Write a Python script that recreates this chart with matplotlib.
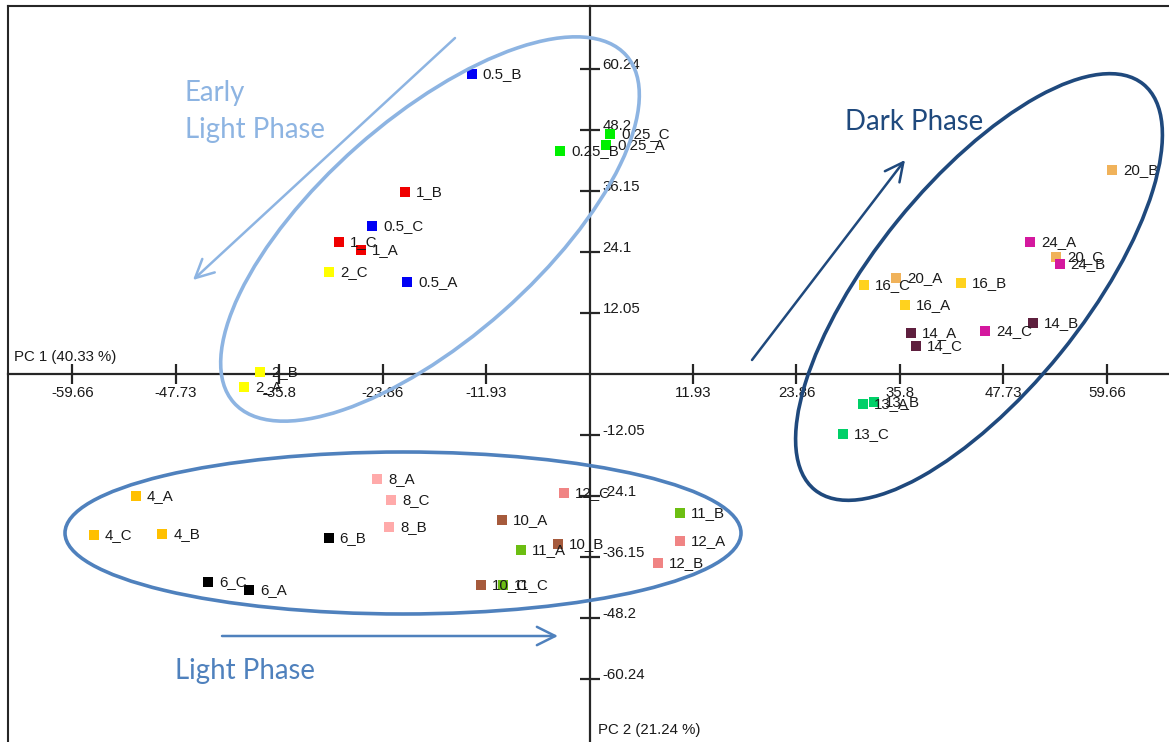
import matplotlib
matplotlib.use("Agg")
import matplotlib.pyplot as plt
from matplotlib.patches import Ellipse
from matplotlib.lines import Line2D
from matplotlib.transforms import IdentityTransform, offset_copy

W, H = 1169, 742

# PCA scores (PC1, PC2) for each sample, labelled <hours>_<replicate>
samples = ["0.25_A", "0.25_B", "0.25_C", "0.5_A", "0.5_B", "0.5_C",
           "1_A", "1_B", "1_C", "2_A", "2_B", "2_C",
           "4_A", "4_B", "4_C", "6_A", "6_B", "6_C",
           "8_A", "8_B", "8_C", "10_A", "10_B", "10_C",
           "11_A", "11_B", "11_C", "12_A", "12_B", "12_C",
           "13_A", "13_B", "13_C", "14_A", "14_B", "14_C",
           "16_A", "16_B", "16_C", "20_A", "20_B", "20_C",
           "24_A", "24_B", "24_C"]
pc1 = [1.89, -3.41, 2.35, -21.07, -13.60, -25.07,
       -26.37, -21.26, -28.88, -39.87, -38.02, -30.06,
       -52.33, -49.30, -57.21, -39.26, -30.10, -44.02,
       -24.49, -23.11, -22.91, -10.14, -3.68, -12.49,
       -7.91, 10.43, -9.96, 10.39, 7.93, -2.92,
       31.51, 32.84, 29.27, 37.08, 51.19, 37.69,
       36.35, 42.81, 31.66, 35.35, 60.27, 53.81,
       50.84, 54.23, 45.62]
pc2 = [45.24, 44.05, 47.47, 18.17, 59.26, 29.36,
       24.56, 36.07, 26.08, -2.57, 0.40, 20.15,
       -24.04, -31.49, -31.81, -42.55, -32.34, -41.09,
       -20.74, -30.17, -24.77, -28.78, -33.52, -41.62,
       -34.71, -27.46, -41.62, -32.99, -37.34, -23.51,
       -5.93, -5.53, -11.73, 8.10, 10.13, 5.59,
       13.69, 18.10, 17.58, 19.08, 40.36, 23.11,
       26.14, 21.85, 8.55]

time_colors = {
    "0.25": "#00F000", "0.5": "#0000F5", "1": "#F00000", "2": "#FFFF00",
    "4": "#FFC000", "6": "#000000", "8": "#FFAAAA", "10": "#A65A3C",
    "11": "#6CBE12", "12": "#F08484", "13": "#00D068", "14": "#5E1F3E",
    "16": "#FFD21E", "20": "#F0B25A", "24": "#D4189E",
}

x_ticks = [-59.66, -47.73, -35.8, -23.86, -11.93, 11.93, 23.86, 35.8, 47.73, 59.66]
x_tick_labels = ["-59.66", "-47.73", "-35.8", "-23.86", "-11.93",
                 "11.93", "23.86", "35.8", "47.73", "59.66"]
y_ticks = [60.24, 48.2, 36.15, 24.1, 12.05, -12.05, -24.1, -36.15, -48.2, -60.24]
y_tick_labels = ["60.24", "48.2", "36.15", "24.1", "12.05",
                 "-12.05", "-24.1", "-36.15", "-48.2", "-60.24"]

x_title = "PC 1 (40.33 %)"
y_title = "PC 2 (21.24 %)"

LABEL_FONT = "Liberation Sans"
PHASE_FONT = "Lato"
AXIS_COLOR = "#262626"
EARLY_COLOR = "#8DB4E2"
LIGHT_COLOR = "#4F81BD"
DARK_COLOR = "#1F497D"

fig = plt.figure(figsize=(W / 100, H / 100), dpi=100)
ax = fig.add_axes([0, 0, 1, 1])
ax.set_xlim(-68.02, 66.84)
ax.set_ylim(-72.64, 73.94)
ax.set_facecolor("white")


def fx(px):
    return px / W


def fy(py):
    return 1 - py / H


# outer frame (left and top edges)
fig.add_artist(Line2D([fx(7.5), fx(7.5)], [0, fy(5.5)], color=AXIS_COLOR, lw=1.5,
                      transform=fig.transFigure))
fig.add_artist(Line2D([fx(7.5), 1], [fy(5.5), fy(5.5)], color=AXIS_COLOR, lw=1.5,
                      transform=fig.transFigure))

# axes crossing at the origin
for side in ("top", "right"):
    ax.spines[side].set_visible(False)
ax.spines["left"].set_position(("data", 0))
ax.spines["bottom"].set_position(("data", 0))
ax.spines["left"].set_bounds(ax.get_ylim()[0], 72.85)
ax.spines["bottom"].set_bounds(-67.15, ax.get_xlim()[1])
for side in ("left", "bottom"):
    ax.spines[side].set_color(AXIS_COLOR)
    ax.spines[side].set_linewidth(1.6)
ax.set_xticks(x_ticks)
ax.set_yticks(y_ticks)
ax.tick_params(direction="inout", length=14, width=1.6, color=AXIS_COLOR,
               labelbottom=False, labelleft=False)

tick_font = dict(family=LABEL_FONT, size=10.8, color="#1a1a1a")
x_lab_tr = offset_copy(ax.transData, fig=fig, x=0, y=-19, units="dots")
for v, s in zip(x_ticks, x_tick_labels):
    ax.text(v, 0, s, transform=x_lab_tr, ha="center", va="center", **tick_font)
y_lab_tr = offset_copy(ax.transData, fig=fig, x=13, y=4, units="dots")
for v, s in zip(y_ticks, y_tick_labels):
    ax.text(0, v, s, transform=y_lab_tr, ha="left", va="center", **tick_font)

ax.text(fx(14), fy(357), x_title, transform=ax.transAxes, ha="left", va="center",
        **tick_font)
ax.text(fx(598), fy(730), y_title, transform=ax.transAxes, ha="left", va="center",
        **tick_font)

# sample markers
colors = [time_colors[s.split("_")[0]] for s in samples]
ax.scatter(pc1, pc2, marker="s", s=52, c=colors, linewidths=0, zorder=3)

# sample labels
lab_tr = offset_copy(ax.transData, fig=fig, x=11, y=0, units="dots")
for name, x, y in zip(samples, pc1, pc2):
    ax.text(x, y, name, transform=lab_tr, ha="left", va="center",
            family=LABEL_FONT, size=10.8, color="#1a1a1a", zorder=4)

# phase groupings (drawn in pixel space so the shapes stay true ellipses)
pix = IdentityTransform()
ax.add_patch(Ellipse((430, H - 229), 2 * 262, 2 * 110, angle=41.5, fill=False,
                     ec=EARLY_COLOR, lw=2.6, transform=pix, zorder=5))
ax.add_patch(Ellipse((979, H - 287), 2 * 261, 2 * 105, angle=51, fill=False,
                     ec=DARK_COLOR, lw=2.6, transform=pix, zorder=5))
ax.add_patch(Ellipse((403, H - 533), 2 * 338, 2 * 81, angle=0, fill=False,
                     ec=LIGHT_COLOR, lw=2.6, transform=pix, zorder=5))

# direction arrows
arrow_specs = [((455, 38), (193, 280), EARLY_COLOR),
               ((752, 360), (905, 160), DARK_COLOR),
               ((222, 636), (558, 636), LIGHT_COLOR)]
for (x0, y0), (x1, y1), col in arrow_specs:
    ax.annotate("", xy=(fx(x1), fy(y1)), xytext=(fx(x0), fy(y0)),
                xycoords="axes fraction", textcoords="axes fraction",
                arrowprops=dict(arrowstyle="->,head_length=0.6,head_width=0.3",
                                color=col, lw=1.8, mutation_scale=22,
                                shrinkA=0, shrinkB=0), zorder=5)

phase_font = dict(family=PHASE_FONT, size=19.9, transform=ax.transAxes,
                  ha="left", va="center")
ax.text(fx(185), fy(93), "Early", color=EARLY_COLOR, **phase_font)
ax.text(fx(185), fy(130), "Light Phase", color=EARLY_COLOR, **phase_font)
ax.text(fx(845), fy(122), "Dark Phase", color=DARK_COLOR, **phase_font)
ax.text(fx(175), fy(671), "Light Phase", color=LIGHT_COLOR, **phase_font)

fig.savefig("out.png", dpi=100)
